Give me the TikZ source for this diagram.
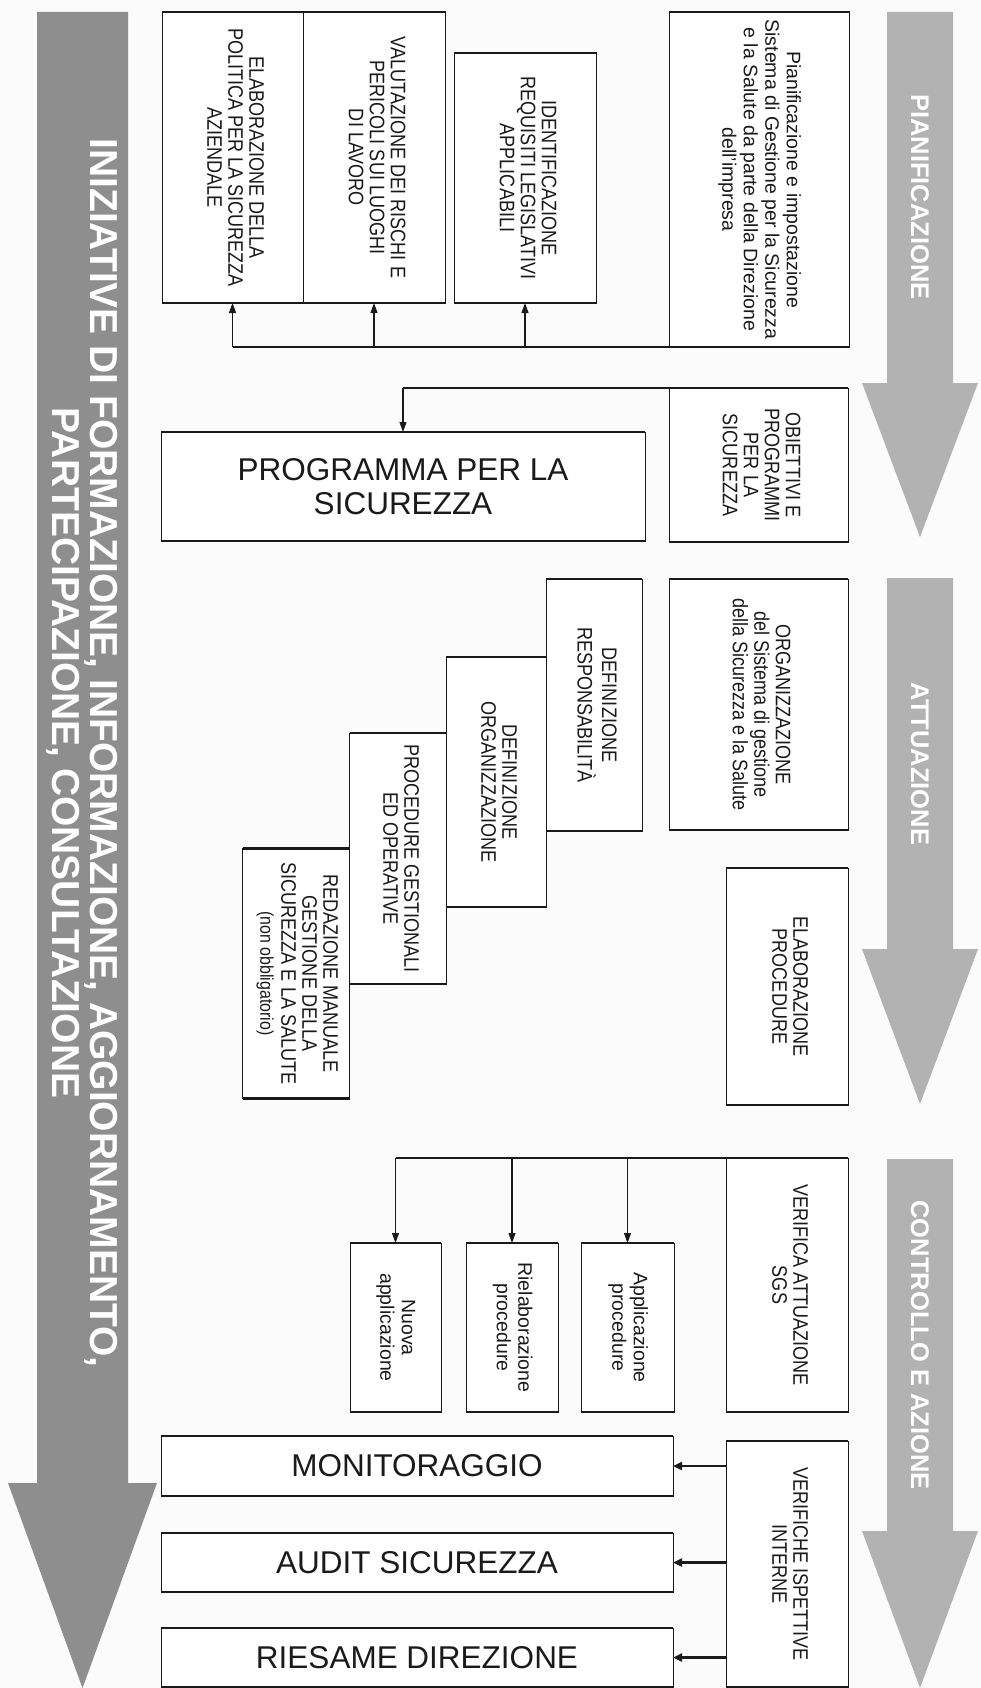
\documentclass[tikz,border=0pt]{standalone}
\usepackage{fontspec}
\setmainfont{Liberation Sans}
\newfontfamily\condf[FakeStretch=0.86]{Liberation Sans}
\usepackage{graphicx}
\usetikzlibrary{arrows.meta}
\newcommand{\rtext}[1]{\rotatebox{-90}{\begin{tabular}{@{}c@{}}#1\end{tabular}}}
\definecolor{darkarrow}{HTML}{8E8E8E}
\definecolor{lightarrow}{HTML}{B2B2B2}
\definecolor{bgcol}{HTML}{FBFBFB}
\definecolor{ink}{HTML}{1A1A1A}
\tikzset{
  bx/.style={draw=ink, line width=1pt, fill=white, inner sep=0pt, outer sep=0pt, text=ink,
    font=\condf\fontsize{21}{21}\selectfont},
  bigtxt/.style={font=\fontsize{31.5}{34}\selectfont},
  mixtxt/.style={font=\fontsize{19.5}{21.5}\selectfont},
  edge/.style={line width=2.2pt, draw=ink},
  conn/.style={line width=2.2pt, draw=ink},
  arr/.style={line width=1.2pt, draw=ink, -{Triangle[length=10pt,width=7pt]}},
  arrl/.style={line width=2.2pt, draw=ink, -{Triangle[length=9pt,width=8pt]}},
  phase/.style={rotate=-90, text=white, font=\bfseries\fontsize{25.5}{28}\selectfont, inner sep=0pt},
}
\begin{document}
\begin{tikzpicture}[x=1pt,y=-1pt]
\useasboundingbox (0,0) rectangle (981,1688);
\fill[bgcol] (0,0) rectangle (981,1688);

% big arrows
\fill[darkarrow] (37,12) -- (128,12) -- (128,1483) -- (157,1483) -- (82.5,1688) -- (8,1483) -- (37,1483) -- cycle;
\fill[lightarrow] (887,12) -- (953,12) -- (953,383) -- (978,383) -- (920,537) -- (862,383) -- (887,383) -- cycle;
\fill[lightarrow] (887,578) -- (953,578) -- (953,949) -- (978,949) -- (920,1104) -- (862,949) -- (887,949) -- cycle;
\fill[lightarrow] (887,1159) -- (953,1159) -- (953,1531) -- (978,1531) -- (920,1688) -- (862,1531) -- (887,1531) -- cycle;

\node[rotate=-90, text=white, align=center, inner sep=0pt,
  font=\bfseries\fontsize{39}{37.5}\selectfont] (iniz) at (82,753)
  {INIZIATIVE DI FORMAZIONE, INFORMAZIONE, AGGIORNAMENTO,\\PARTECIPAZIONE, CONSULTAZIONE};
\node[phase] (ph1) at (920,197) {PIANIFICAZIONE};
\node[phase] (ph2) at (920,764) {ATTUAZIONE};
\node[phase] (ph3) at (920,1345) {CONTROLLO E AZIONE};

% boxes
\node[bx, minimum width=141pt, minimum height=291pt] (A) at (232.5,157.5)
  {\rtext{ELABORAZIONE DELLA\\POLITICA PER LA SICUREZZA\\AZIENDALE}};
\node[bx, minimum width=142pt, minimum height=291pt] (B) at (374,157.5)
  {\rtext{VALUTAZIONE DEI RISCHI E\\PERICOLI SUI LUOGHI\\DI LAVORO}};
\node[bx, minimum width=142pt, minimum height=250pt] (C) at (525,178)
  {\rtext{IDENTIFICAZIONE\\REQUISITI LEGISLATIVI\\APPLICABILI}};
\node[bx, mixtxt, minimum width=180pt, minimum height=335pt] (D) at (759,179.5)
  {\rtext{Pianificazione e impostazione\\Sistema di Gestione per la Sicurezza\\e la Salute da parte della Direzione\\dell'impresa}};
\node[bx, minimum width=179pt, minimum height=154pt] (E) at (758.5,465)
  {\rtext{OBIETTIVI E\\PROGRAMMI\\PER LA\\SICUREZZA}};
\node[bx, bigtxt, align=center, minimum width=484pt, minimum height=109pt] (F) at (403,486.5)
  {PROGRAMMA PER LA\\SICUREZZA};

\node[bx, minimum width=179pt, minimum height=251pt] (G) at (758.5,704.5)
  {\rtext{ORGANIZZAZIONE\\del Sistema di gestione\\della Sicurezza e la Salute}};
\node[bx, minimum width=96pt, minimum height=252pt] (H) at (594,705)
  {\rtext{DEFINIZIONE\\RESPONSABILITÀ}};
\node[bx, minimum width=100pt, minimum height=250pt] (I) at (496,782)
  {\rtext{DEFINIZIONE\\ORGANIZZAZIONE}};
\node[bx, minimum width=97pt, minimum height=251pt] (J) at (398,858.5)
  {\rtext{PROCEDURE GESTIONALI\\ED OPERATIVE}};
\node[bx, minimum width=107pt, minimum height=250pt] (K) at (296,973.5)
  {\rtext{REDAZIONE MANUALE\\GESTIONE DELLA\\SICUREZZA E LA SALUTE\\{\fontsize{18.5}{22}\selectfont(non obbligatorio)}}};
\node[bx, minimum width=122pt, minimum height=237pt] (L) at (787,986.5)
  {\rtext{ELABORAZIONE\\PROCEDURE}};

\node[bx, minimum width=122pt, minimum height=254pt] (M) at (787,1285)
  {\rtext{VERIFICA ATTUAZIONE\\SGS}};
\node[bx, mixtxt, minimum width=91pt, minimum height=169pt] (N1) at (395.5,1327.5)
  {\rtext{Nuova\\applicazione}};
\node[bx, mixtxt, minimum width=92pt, minimum height=169pt] (N2) at (512,1327.5)
  {\rtext{Rielaborazione\\procedure}};
\node[bx, mixtxt, minimum width=93pt, minimum height=169pt] (N3) at (627.5,1327.5)
  {\rtext{Applicazione\\procedure}};

\node[bx, bigtxt, minimum width=512pt, minimum height=60pt] (O1) at (417,1466) {MONITORAGGIO};
\node[bx, bigtxt, minimum width=512pt, minimum height=59pt] (O2) at (417,1562.5) {AUDIT SICUREZZA};
\node[bx, bigtxt, minimum width=512pt, minimum height=59pt] (O3) at (417,1657.5) {RIESAME DIREZIONE};
\node[bx, minimum width=122pt, minimum height=246pt] (P) at (787,1564)
  {\rtext{VERIFICHE ISPETTIVE\\INTERNE}};

% thicker horizontal edges
\foreach \n in {A,B,C,D,E,F,G,H,I,J,K,L,M,N1,N2,N3,O1,O2,O3,P}
  \draw[edge] (\n.north west) -- (\n.north east) (\n.south west) -- (\n.south east);

% connectors
\coordinate (d1) at (A.south |- D.south west);
\draw[conn] (D.south west) -- (d1);
\draw[arr] (d1) -- (A.south);
\draw[arr] (B.south |- D.south west) -- (B.south);
\draw[arr] (C.south |- D.south west) -- (C.south);

\coordinate (e1) at (F.north |- E.north west);
\draw[conn] (E.north west) -- (e1);
\draw[arr] (e1) -- (F.north);

\coordinate (m1) at (N1.north |- M.north west);
\draw[line width=1.2pt, draw=ink] (M.north west) -- (m1);
\draw[arr] (m1) -- (N1.north);
\draw[arr] (N2.north |- M.north west) -- (N2.north);
\draw[arr] (N3.north |- M.north west) -- (N3.north);

\draw[arrl] (P.west |- O1.east) -- (O1.east);
\draw[arrl] (P.west |- O2.east) -- (O2.east);
\draw[arrl] (P.west |- O3.east) -- (O3.east);
\end{tikzpicture}
\end{document}
